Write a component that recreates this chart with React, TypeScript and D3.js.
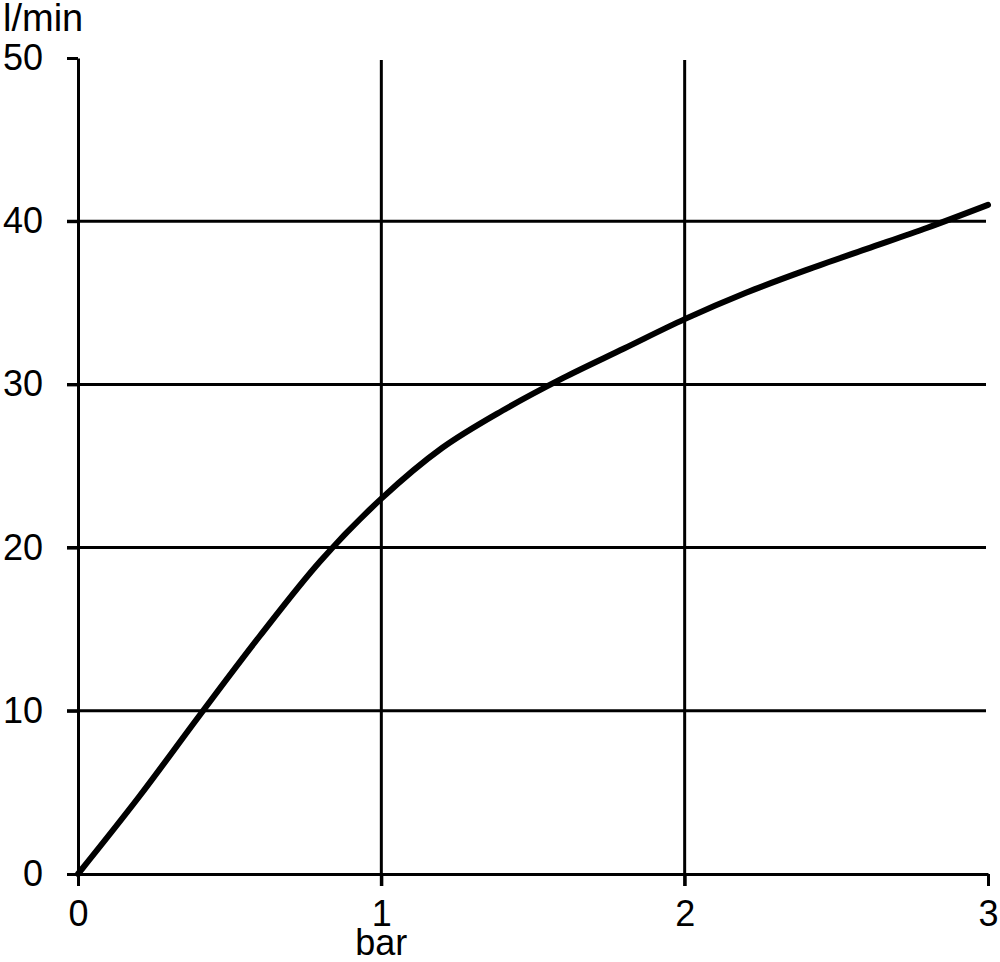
import { useEffect, useRef } from "react"
import * as d3 from "d3"

// pressure (bar) vs flow (l/min)
const pressure = [0, 0.2, 0.4, 0.6, 0.8, 1.0, 1.2, 1.4, 1.6, 1.8, 2.0, 2.2, 2.4, 2.6, 2.8, 3.0]
const flow = [0, 4.7, 9.7, 14.6, 19.2, 23.0, 26.1, 28.4, 30.4, 32.2, 34.0, 35.6, 37.0, 38.3, 39.6, 41.0]

const xTicks = [0, 1, 2, 3]
const yTicks = [0, 10, 20, 30, 40, 50]
const xGrid = [1, 2]
const yGrid = [10, 20, 30, 40]

export default function App() {
  const svgRef = useRef<SVGSVGElement>(null)

  useEffect(() => {
    if (!svgRef.current) return
    const svg = d3.select(svgRef.current)
    svg.selectAll("*").remove()

    const width = 1000
    const height = 962
    const margin = { top: 58, right: 12, bottom: 88, left: 78 }

    const x = d3.scaleLinear().domain([0, 3]).range([margin.left, width - margin.right])
    const y = d3.scaleLinear().domain([0, 50]).range([height - margin.bottom, margin.top])

    const font = "'Liberation Sans', Arial, sans-serif"

    // grid lines
    svg
      .append("g")
      .selectAll("line")
      .data(yGrid)
      .join("line")
      .attr("x1", x(0) - 11)
      .attr("x2", x(3) - 2)
      .attr("y1", (d) => y(d))
      .attr("y2", (d) => y(d))
      .attr("stroke", "#000")
      .attr("stroke-width", 3)

    svg
      .append("g")
      .selectAll("line")
      .data(xGrid)
      .join("line")
      .attr("x1", (d) => x(d))
      .attr("x2", (d) => x(d))
      .attr("y1", y(50) + 2)
      .attr("y2", y(0) + 12)
      .attr("stroke", "#000")
      .attr("stroke-width", 3)

    // y axis
    const yAxis = svg
      .append("g")
      .attr("transform", `translate(${x(0)},0)`)
      .call(
        d3
          .axisLeft(y)
          .tickValues(yTicks)
          .tickFormat(d3.format("d"))
          .tickSize(11)
          .tickPadding(24)
          .tickSizeOuter(0),
      )
    yAxis.select(".domain").attr("stroke-width", 3)
    yAxis.selectAll(".tick line").attr("stroke-width", 3)
    yAxis
      .selectAll(".tick text")
      .attr("font-family", font)
      .attr("font-size", 36)
      .attr("fill", "#000")

    // x axis
    const xAxis = svg
      .append("g")
      .attr("transform", `translate(0,${y(0)})`)
      .call(
        d3
          .axisBottom(x)
          .tickValues(xTicks)
          .tickFormat(d3.format("d"))
          .tickSize(12)
          .tickPadding(14)
          .tickSizeOuter(0),
      )
    xAxis.select(".domain").attr("stroke-width", 3)
    xAxis.selectAll(".tick line").attr("stroke-width", 3)
    xAxis
      .selectAll(".tick text")
      .attr("font-family", font)
      .attr("font-size", 36)
      .attr("fill", "#000")

    // curve
    const line = d3
      .line<number>()
      .x((_, i) => x(pressure[i]))
      .y((d) => y(d))
      .curve(d3.curveCatmullRom.alpha(0.5))

    svg
      .append("path")
      .datum(flow)
      .attr("d", line)
      .attr("fill", "none")
      .attr("stroke", "#000")
      .attr("stroke-width", 6)
      .attr("stroke-linecap", "round")

    // axis titles
    svg
      .append("text")
      .attr("x", 3)
      .attr("y", 31)
      .attr("font-family", font)
      .attr("font-size", 38)
      .text("l/min")

    svg
      .append("text")
      .attr("x", x(1))
      .attr("y", 955)
      .attr("text-anchor", "middle")
      .attr("font-family", font)
      .attr("font-size", 36)
      .text("bar")
  }, [])

  return (
    <svg
      ref={svgRef}
      width={1000}
      height={962}
      style={{ position: "absolute", left: 0, top: 0, background: "#fff" }}
    />
  )
}
